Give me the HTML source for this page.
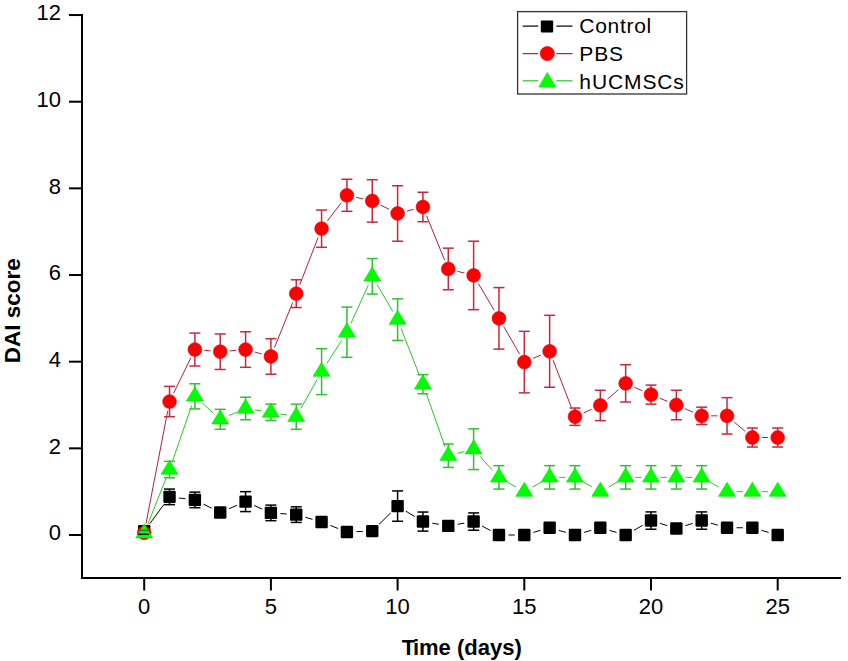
<!DOCTYPE html>
<html><head><meta charset="utf-8"><title>DAI score chart</title>
<style>html,body{margin:0;padding:0;background:#fff;}body{width:848px;height:661px;overflow:hidden;font-family:"Liberation Sans",sans-serif;}svg{display:block;}</style>
</head><body>
<svg width="848" height="661" viewBox="0 0 848 661"><g fill="#000">
<rect x="81" y="14" width="2" height="565"/>
<rect x="81" y="577" width="760" height="2"/>
<rect x="69" y="534.00" width="13" height="2"/>
<rect x="69" y="447.34" width="13" height="2"/>
<rect x="69" y="360.68" width="13" height="2"/>
<rect x="69" y="274.02" width="13" height="2"/>
<rect x="69" y="187.36" width="13" height="2"/>
<rect x="69" y="100.70" width="13" height="2"/>
<rect x="69" y="14.04" width="13" height="2"/>
<rect x="143.20" y="578" width="2" height="12.5"/>
<rect x="269.90" y="578" width="2" height="12.5"/>
<rect x="396.60" y="578" width="2" height="12.5"/>
<rect x="523.30" y="578" width="2" height="12.5"/>
<rect x="650.00" y="578" width="2" height="12.5"/>
<rect x="776.70" y="578" width="2" height="12.5"/>
</g>
<g font-family="Liberation Sans, sans-serif" font-size="22" fill="#000">
<text x="61.0" y="540.30" text-anchor="end">0</text>
<text x="61.0" y="453.64" text-anchor="end">2</text>
<text x="61.0" y="366.98" text-anchor="end">4</text>
<text x="61.0" y="280.32" text-anchor="end">6</text>
<text x="61.0" y="193.66" text-anchor="end">8</text>
<text x="61.0" y="107.00" text-anchor="end">10</text>
<text x="61.0" y="20.34" text-anchor="end">12</text>
<text x="144.20" y="614.2" text-anchor="middle">0</text>
<text x="270.90" y="614.2" text-anchor="middle">5</text>
<text x="397.60" y="614.2" text-anchor="middle">10</text>
<text x="524.30" y="614.2" text-anchor="middle">15</text>
<text x="651.00" y="614.2" text-anchor="middle">20</text>
<text x="777.70" y="614.2" text-anchor="middle">25</text>
</g>
<text x="461.8" y="654.5" text-anchor="middle" font-family="Liberation Sans, sans-serif" font-weight="bold" font-size="22">T<tspan dx="-2">ime (days)</tspan></text>
<text transform="translate(19.5,310.7) rotate(-90)" x="0" y="0" text-anchor="middle" font-family="Liberation Sans, sans-serif" font-weight="bold" font-size="22.5">DAI score</text>
<g stroke="#000" stroke-width="1" fill="none"><line x1="149.83" y1="523.66" x2="163.91" y2="504.52"/><line x1="178.97" y1="498.00" x2="185.45" y2="498.77"/><line x1="203.39" y1="504.12" x2="211.71" y2="508.25"/><line x1="228.96" y1="508.73" x2="236.82" y2="505.37"/><line x1="254.24" y1="505.50" x2="262.22" y2="509.04"/><line x1="280.38" y1="513.55" x2="286.76" y2="513.99"/><line x1="305.36" y1="517.29" x2="312.46" y2="519.35"/><line x1="330.42" y1="525.48" x2="338.08" y2="528.49"/><line x1="356.41" y1="531.64" x2="362.77" y2="531.42"/><line x1="379.02" y1="524.43" x2="390.84" y2="512.77"/><line x1="405.71" y1="511.05" x2="414.83" y2="516.62"/><line x1="432.30" y1="523.17" x2="438.92" y2="524.30"/><line x1="457.64" y1="524.30" x2="464.26" y2="523.17"/><line x1="482.01" y1="526.02" x2="490.57" y2="530.55"/><line x1="508.46" y1="535.00" x2="514.80" y2="535.00"/><line x1="533.43" y1="532.39" x2="540.51" y2="530.37"/><line x1="558.77" y1="530.37" x2="565.85" y2="532.39"/><line x1="584.11" y1="532.39" x2="591.19" y2="530.37"/><line x1="609.45" y1="530.37" x2="616.53" y2="532.39"/><line x1="633.92" y1="530.30" x2="642.74" y2="525.27"/><line x1="660.07" y1="523.41" x2="667.27" y2="525.66"/><line x1="685.41" y1="525.66" x2="692.61" y2="523.41"/><line x1="710.82" y1="523.17" x2="717.88" y2="525.17"/><line x1="736.52" y1="527.76" x2="742.86" y2="527.76"/><line x1="761.49" y1="530.37" x2="768.57" y2="532.39"/></g>
<g stroke="#b02040" stroke-width="1" fill="none"><line x1="146.00" y1="523.51" x2="167.74" y2="410.87"/><line x1="173.70" y1="393.00" x2="190.72" y2="358.09"/><line x1="204.35" y1="350.36" x2="210.75" y2="350.90"/><line x1="229.69" y1="350.90" x2="236.09" y2="350.36"/><line x1="254.72" y1="352.05" x2="261.74" y2="353.97"/><line x1="274.45" y1="347.67" x2="292.69" y2="302.46"/><line x1="299.69" y1="284.80" x2="318.13" y2="237.51"/><line x1="327.33" y1="221.09" x2="341.17" y2="202.86"/><line x1="356.19" y1="197.35" x2="362.99" y2="198.86"/><line x1="380.77" y1="205.15" x2="389.09" y2="209.27"/><line x1="406.80" y1="211.13" x2="413.74" y2="209.35"/><line x1="426.54" y1="215.78" x2="444.68" y2="260.16"/><line x1="457.48" y1="271.31" x2="464.42" y2="273.09"/><line x1="478.45" y1="283.63" x2="494.13" y2="310.17"/><line x1="503.72" y1="326.57" x2="519.54" y2="353.89"/><line x1="533.04" y1="358.38" x2="540.90" y2="355.02"/><line x1="553.07" y1="360.14" x2="571.55" y2="407.85"/><line x1="583.66" y1="412.85" x2="591.64" y2="409.30"/><line x1="607.48" y1="399.20" x2="618.50" y2="389.59"/><line x1="634.34" y1="387.20" x2="642.32" y2="390.75"/><line x1="659.79" y1="398.22" x2="667.55" y2="401.40"/><line x1="685.08" y1="408.74" x2="692.94" y2="412.11"/><line x1="711.18" y1="415.84" x2="717.52" y2="415.84"/><line x1="734.24" y1="422.02" x2="745.14" y2="431.33"/><line x1="761.86" y1="437.51" x2="768.20" y2="437.51"/></g>
<g stroke="#28c828" stroke-width="1" fill="none"><line x1="147.71" y1="524.44" x2="166.03" y2="478.40"/><line x1="172.65" y1="460.59" x2="191.77" y2="405.32"/><line x1="201.92" y1="402.72" x2="213.18" y2="412.93"/><line x1="228.96" y1="415.57" x2="236.82" y2="412.21"/><line x1="254.95" y1="409.92" x2="261.51" y2="410.93"/><line x1="280.26" y1="413.98" x2="286.88" y2="415.11"/><line x1="300.90" y1="408.43" x2="316.92" y2="379.93"/><line x1="326.72" y1="363.65" x2="341.78" y2="340.21"/><line x1="350.84" y1="323.56" x2="368.34" y2="284.97"/><line x1="377.06" y1="284.52" x2="392.80" y2="311.45"/><line x1="401.07" y1="328.49" x2="419.47" y2="375.37"/><line x1="426.11" y1="393.17" x2="445.11" y2="446.75"/><line x1="457.48" y1="453.35" x2="464.42" y2="451.57"/><line x1="479.97" y1="456.27" x2="492.61" y2="470.31"/><line x1="507.23" y1="482.04" x2="516.03" y2="487.00"/><line x1="532.57" y1="487.00" x2="541.37" y2="482.04"/><line x1="559.14" y1="477.37" x2="565.48" y2="477.37"/><line x1="583.25" y1="482.04" x2="592.05" y2="487.00"/><line x1="608.59" y1="487.00" x2="617.39" y2="482.04"/><line x1="635.16" y1="477.37" x2="641.50" y2="477.37"/><line x1="660.50" y1="477.37" x2="666.84" y2="477.37"/><line x1="685.84" y1="477.37" x2="692.18" y2="477.37"/><line x1="709.95" y1="482.04" x2="718.75" y2="487.00"/><line x1="736.52" y1="491.67" x2="742.86" y2="491.67"/><line x1="761.86" y1="491.67" x2="768.20" y2="491.67"/></g>
<g stroke="#000" stroke-width="1.5" fill="none"><line x1="169.54" y1="489.07" x2="169.54" y2="504.67"/><line x1="164.04" y1="489.07" x2="175.04" y2="489.07"/><line x1="164.04" y1="504.67" x2="175.04" y2="504.67"/><line x1="194.88" y1="492.10" x2="194.88" y2="507.70"/><line x1="189.38" y1="492.10" x2="200.38" y2="492.10"/><line x1="189.38" y1="507.70" x2="200.38" y2="507.70"/><line x1="220.22" y1="509.00" x2="220.22" y2="515.93"/><line x1="214.72" y1="509.00" x2="225.72" y2="509.00"/><line x1="214.72" y1="515.93" x2="225.72" y2="515.93"/><line x1="245.56" y1="491.67" x2="245.56" y2="511.60"/><line x1="240.06" y1="491.67" x2="251.06" y2="491.67"/><line x1="240.06" y1="511.60" x2="251.06" y2="511.60"/><line x1="270.90" y1="505.10" x2="270.90" y2="520.70"/><line x1="265.40" y1="505.10" x2="276.40" y2="505.10"/><line x1="265.40" y1="520.70" x2="276.40" y2="520.70"/><line x1="296.24" y1="506.84" x2="296.24" y2="522.43"/><line x1="290.74" y1="506.84" x2="301.74" y2="506.84"/><line x1="290.74" y1="522.43" x2="301.74" y2="522.43"/><line x1="321.58" y1="519.40" x2="321.58" y2="524.60"/><line x1="316.08" y1="519.40" x2="327.08" y2="519.40"/><line x1="316.08" y1="524.60" x2="327.08" y2="524.60"/><line x1="346.92" y1="529.80" x2="346.92" y2="534.13"/><line x1="341.42" y1="529.80" x2="352.42" y2="529.80"/><line x1="341.42" y1="534.13" x2="352.42" y2="534.13"/><line x1="372.26" y1="528.93" x2="372.26" y2="533.27"/><line x1="366.76" y1="528.93" x2="377.76" y2="528.93"/><line x1="366.76" y1="533.27" x2="377.76" y2="533.27"/><line x1="397.60" y1="490.93" x2="397.60" y2="521.26"/><line x1="392.10" y1="490.93" x2="403.10" y2="490.93"/><line x1="392.10" y1="521.26" x2="403.10" y2="521.26"/><line x1="422.94" y1="512.04" x2="422.94" y2="531.10"/><line x1="417.44" y1="512.04" x2="428.44" y2="512.04"/><line x1="417.44" y1="531.10" x2="428.44" y2="531.10"/><line x1="448.28" y1="523.73" x2="448.28" y2="528.07"/><line x1="442.78" y1="523.73" x2="453.78" y2="523.73"/><line x1="442.78" y1="528.07" x2="453.78" y2="528.07"/><line x1="473.62" y1="512.90" x2="473.62" y2="530.23"/><line x1="468.12" y1="512.90" x2="479.12" y2="512.90"/><line x1="468.12" y1="530.23" x2="479.12" y2="530.23"/><line x1="549.64" y1="525.60" x2="549.64" y2="529.93"/><line x1="544.14" y1="525.60" x2="555.14" y2="525.60"/><line x1="544.14" y1="529.93" x2="555.14" y2="529.93"/><line x1="600.32" y1="525.60" x2="600.32" y2="529.93"/><line x1="594.82" y1="525.60" x2="605.82" y2="525.60"/><line x1="594.82" y1="529.93" x2="605.82" y2="529.93"/><line x1="651.00" y1="511.91" x2="651.00" y2="529.24"/><line x1="645.50" y1="511.91" x2="656.50" y2="511.91"/><line x1="645.50" y1="529.24" x2="656.50" y2="529.24"/><line x1="676.34" y1="526.33" x2="676.34" y2="530.67"/><line x1="670.84" y1="526.33" x2="681.84" y2="526.33"/><line x1="670.84" y1="530.67" x2="681.84" y2="530.67"/><line x1="701.68" y1="511.91" x2="701.68" y2="529.24"/><line x1="696.18" y1="511.91" x2="707.18" y2="511.91"/><line x1="696.18" y1="529.24" x2="707.18" y2="529.24"/><line x1="727.02" y1="525.60" x2="727.02" y2="529.93"/><line x1="721.52" y1="525.60" x2="732.52" y2="525.60"/><line x1="721.52" y1="529.93" x2="732.52" y2="529.93"/><line x1="752.36" y1="525.60" x2="752.36" y2="529.93"/><line x1="746.86" y1="525.60" x2="757.86" y2="525.60"/><line x1="746.86" y1="529.93" x2="757.86" y2="529.93"/></g>
<g fill="#000"><rect x="138.00" y="525.12" width="12.4" height="12.4" rx="1.2"/><rect x="163.34" y="490.67" width="12.4" height="12.4" rx="1.2"/><rect x="188.68" y="493.70" width="12.4" height="12.4" rx="1.2"/><rect x="214.02" y="506.27" width="12.4" height="12.4" rx="1.2"/><rect x="239.36" y="495.44" width="12.4" height="12.4" rx="1.2"/><rect x="264.70" y="506.70" width="12.4" height="12.4" rx="1.2"/><rect x="290.04" y="508.43" width="12.4" height="12.4" rx="1.2"/><rect x="315.38" y="515.80" width="12.4" height="12.4" rx="1.2"/><rect x="340.72" y="525.77" width="12.4" height="12.4" rx="1.2"/><rect x="366.06" y="524.90" width="12.4" height="12.4" rx="1.2"/><rect x="391.40" y="499.90" width="12.4" height="12.4" rx="1.2"/><rect x="416.74" y="515.37" width="12.4" height="12.4" rx="1.2"/><rect x="442.08" y="519.70" width="12.4" height="12.4" rx="1.2"/><rect x="467.42" y="515.37" width="12.4" height="12.4" rx="1.2"/><rect x="492.76" y="528.80" width="12.4" height="12.4" rx="1.2"/><rect x="518.10" y="528.80" width="12.4" height="12.4" rx="1.2"/><rect x="543.44" y="521.56" width="12.4" height="12.4" rx="1.2"/><rect x="568.78" y="528.80" width="12.4" height="12.4" rx="1.2"/><rect x="594.12" y="521.56" width="12.4" height="12.4" rx="1.2"/><rect x="619.46" y="528.80" width="12.4" height="12.4" rx="1.2"/><rect x="644.80" y="514.37" width="12.4" height="12.4" rx="1.2"/><rect x="670.14" y="522.30" width="12.4" height="12.4" rx="1.2"/><rect x="695.48" y="514.37" width="12.4" height="12.4" rx="1.2"/><rect x="720.82" y="521.56" width="12.4" height="12.4" rx="1.2"/><rect x="746.16" y="521.56" width="12.4" height="12.4" rx="1.2"/><rect x="771.50" y="528.80" width="12.4" height="12.4" rx="1.2"/></g>
<g stroke="#c8283c" stroke-width="1.5" fill="none"><line x1="169.54" y1="386.38" x2="169.54" y2="416.71"/><line x1="164.04" y1="386.38" x2="175.04" y2="386.38"/><line x1="164.04" y1="416.71" x2="175.04" y2="416.71"/><line x1="194.88" y1="333.08" x2="194.88" y2="366.01"/><line x1="189.38" y1="333.08" x2="200.38" y2="333.08"/><line x1="189.38" y1="366.01" x2="200.38" y2="366.01"/><line x1="220.22" y1="333.95" x2="220.22" y2="369.48"/><line x1="214.72" y1="333.95" x2="225.72" y2="333.95"/><line x1="214.72" y1="369.48" x2="225.72" y2="369.48"/><line x1="245.56" y1="331.78" x2="245.56" y2="367.31"/><line x1="240.06" y1="331.78" x2="251.06" y2="331.78"/><line x1="240.06" y1="367.31" x2="251.06" y2="367.31"/><line x1="270.90" y1="338.72" x2="270.90" y2="374.25"/><line x1="265.40" y1="338.72" x2="276.40" y2="338.72"/><line x1="265.40" y1="374.25" x2="276.40" y2="374.25"/><line x1="296.24" y1="279.79" x2="296.24" y2="307.52"/><line x1="290.74" y1="279.79" x2="301.74" y2="279.79"/><line x1="290.74" y1="307.52" x2="301.74" y2="307.52"/><line x1="321.58" y1="210.03" x2="321.58" y2="247.29"/><line x1="316.08" y1="210.03" x2="327.08" y2="210.03"/><line x1="316.08" y1="247.29" x2="327.08" y2="247.29"/><line x1="346.92" y1="179.26" x2="346.92" y2="211.32"/><line x1="341.42" y1="179.26" x2="352.42" y2="179.26"/><line x1="341.42" y1="211.32" x2="352.42" y2="211.32"/><line x1="372.26" y1="179.69" x2="372.26" y2="222.16"/><line x1="366.76" y1="179.69" x2="377.76" y2="179.69"/><line x1="366.76" y1="222.16" x2="377.76" y2="222.16"/><line x1="397.60" y1="185.76" x2="397.60" y2="241.22"/><line x1="392.10" y1="185.76" x2="403.10" y2="185.76"/><line x1="392.10" y1="241.22" x2="403.10" y2="241.22"/><line x1="422.94" y1="192.26" x2="422.94" y2="221.72"/><line x1="417.44" y1="192.26" x2="428.44" y2="192.26"/><line x1="417.44" y1="221.72" x2="428.44" y2="221.72"/><line x1="448.28" y1="248.16" x2="448.28" y2="289.75"/><line x1="442.78" y1="248.16" x2="453.78" y2="248.16"/><line x1="442.78" y1="289.75" x2="453.78" y2="289.75"/><line x1="473.62" y1="241.22" x2="473.62" y2="309.68"/><line x1="468.12" y1="241.22" x2="479.12" y2="241.22"/><line x1="468.12" y1="309.68" x2="479.12" y2="309.68"/><line x1="498.96" y1="287.59" x2="498.96" y2="349.11"/><line x1="493.46" y1="287.59" x2="504.46" y2="287.59"/><line x1="493.46" y1="349.11" x2="504.46" y2="349.11"/><line x1="524.30" y1="331.35" x2="524.30" y2="392.88"/><line x1="518.80" y1="331.35" x2="529.80" y2="331.35"/><line x1="518.80" y1="392.88" x2="529.80" y2="392.88"/><line x1="549.64" y1="315.32" x2="549.64" y2="387.24"/><line x1="544.14" y1="315.32" x2="555.14" y2="315.32"/><line x1="544.14" y1="387.24" x2="555.14" y2="387.24"/><line x1="574.98" y1="408.04" x2="574.98" y2="425.38"/><line x1="569.48" y1="408.04" x2="580.48" y2="408.04"/><line x1="569.48" y1="425.38" x2="580.48" y2="425.38"/><line x1="600.32" y1="390.28" x2="600.32" y2="420.61"/><line x1="594.82" y1="390.28" x2="605.82" y2="390.28"/><line x1="594.82" y1="420.61" x2="605.82" y2="420.61"/><line x1="625.66" y1="364.71" x2="625.66" y2="401.98"/><line x1="620.16" y1="364.71" x2="631.16" y2="364.71"/><line x1="620.16" y1="401.98" x2="631.16" y2="401.98"/><line x1="651.00" y1="385.08" x2="651.00" y2="404.14"/><line x1="645.50" y1="385.08" x2="656.50" y2="385.08"/><line x1="645.50" y1="404.14" x2="656.50" y2="404.14"/><line x1="676.34" y1="390.28" x2="676.34" y2="419.74"/><line x1="670.84" y1="390.28" x2="681.84" y2="390.28"/><line x1="670.84" y1="419.74" x2="681.84" y2="419.74"/><line x1="701.68" y1="407.18" x2="701.68" y2="424.51"/><line x1="696.18" y1="407.18" x2="707.18" y2="407.18"/><line x1="696.18" y1="424.51" x2="707.18" y2="424.51"/><line x1="727.02" y1="397.64" x2="727.02" y2="434.04"/><line x1="721.52" y1="397.64" x2="732.52" y2="397.64"/><line x1="721.52" y1="434.04" x2="732.52" y2="434.04"/><line x1="752.36" y1="427.97" x2="752.36" y2="447.04"/><line x1="746.86" y1="427.97" x2="757.86" y2="427.97"/><line x1="746.86" y1="447.04" x2="757.86" y2="447.04"/><line x1="777.70" y1="427.97" x2="777.70" y2="447.04"/><line x1="772.20" y1="427.97" x2="783.20" y2="427.97"/><line x1="772.20" y1="447.04" x2="783.20" y2="447.04"/></g>
<g fill="#ff0000" stroke="#e00010" stroke-width="0.6"><circle cx="144.20" cy="532.83" r="6.9"/><circle cx="169.54" cy="401.54" r="6.9"/><circle cx="194.88" cy="349.55" r="6.9"/><circle cx="220.22" cy="351.71" r="6.9"/><circle cx="245.56" cy="349.55" r="6.9"/><circle cx="270.90" cy="356.48" r="6.9"/><circle cx="296.24" cy="293.65" r="6.9"/><circle cx="321.58" cy="228.66" r="6.9"/><circle cx="346.92" cy="195.29" r="6.9"/><circle cx="372.26" cy="200.93" r="6.9"/><circle cx="397.60" cy="213.49" r="6.9"/><circle cx="422.94" cy="206.99" r="6.9"/><circle cx="448.28" cy="268.95" r="6.9"/><circle cx="473.62" cy="275.45" r="6.9"/><circle cx="498.96" cy="318.35" r="6.9"/><circle cx="524.30" cy="362.11" r="6.9"/><circle cx="549.64" cy="351.28" r="6.9"/><circle cx="574.98" cy="416.71" r="6.9"/><circle cx="600.32" cy="405.44" r="6.9"/><circle cx="625.66" cy="383.35" r="6.9"/><circle cx="651.00" cy="394.61" r="6.9"/><circle cx="676.34" cy="405.01" r="6.9"/><circle cx="701.68" cy="415.84" r="6.9"/><circle cx="727.02" cy="415.84" r="6.9"/><circle cx="752.36" cy="437.51" r="6.9"/><circle cx="777.70" cy="437.51" r="6.9"/></g>
<g stroke="#30c030" stroke-width="1.5" fill="none"><line x1="169.54" y1="461.34" x2="169.54" y2="477.80"/><line x1="164.04" y1="461.34" x2="175.04" y2="461.34"/><line x1="164.04" y1="477.80" x2="175.04" y2="477.80"/><line x1="194.88" y1="383.78" x2="194.88" y2="408.91"/><line x1="189.38" y1="383.78" x2="200.38" y2="383.78"/><line x1="189.38" y1="408.91" x2="200.38" y2="408.91"/><line x1="220.22" y1="409.34" x2="220.22" y2="429.27"/><line x1="214.72" y1="409.34" x2="225.72" y2="409.34"/><line x1="214.72" y1="429.27" x2="225.72" y2="429.27"/><line x1="245.56" y1="397.21" x2="245.56" y2="419.74"/><line x1="240.06" y1="397.21" x2="251.06" y2="397.21"/><line x1="240.06" y1="419.74" x2="251.06" y2="419.74"/><line x1="270.90" y1="404.14" x2="270.90" y2="420.61"/><line x1="265.40" y1="404.14" x2="276.40" y2="404.14"/><line x1="265.40" y1="420.61" x2="276.40" y2="420.61"/><line x1="296.24" y1="404.14" x2="296.24" y2="429.27"/><line x1="290.74" y1="404.14" x2="301.74" y2="404.14"/><line x1="290.74" y1="429.27" x2="301.74" y2="429.27"/><line x1="321.58" y1="348.68" x2="321.58" y2="394.61"/><line x1="316.08" y1="348.68" x2="327.08" y2="348.68"/><line x1="316.08" y1="394.61" x2="327.08" y2="394.61"/><line x1="346.92" y1="307.08" x2="346.92" y2="357.35"/><line x1="341.42" y1="307.08" x2="352.42" y2="307.08"/><line x1="341.42" y1="357.35" x2="352.42" y2="357.35"/><line x1="372.26" y1="258.55" x2="372.26" y2="294.09"/><line x1="366.76" y1="258.55" x2="377.76" y2="258.55"/><line x1="366.76" y1="294.09" x2="377.76" y2="294.09"/><line x1="397.60" y1="298.85" x2="397.60" y2="340.45"/><line x1="392.10" y1="298.85" x2="403.10" y2="298.85"/><line x1="392.10" y1="340.45" x2="403.10" y2="340.45"/><line x1="422.94" y1="374.68" x2="422.94" y2="393.74"/><line x1="417.44" y1="374.68" x2="428.44" y2="374.68"/><line x1="417.44" y1="393.74" x2="428.44" y2="393.74"/><line x1="448.28" y1="444.01" x2="448.28" y2="467.41"/><line x1="442.78" y1="444.01" x2="453.78" y2="444.01"/><line x1="442.78" y1="467.41" x2="453.78" y2="467.41"/><line x1="473.62" y1="428.84" x2="473.62" y2="469.57"/><line x1="468.12" y1="428.84" x2="479.12" y2="428.84"/><line x1="468.12" y1="469.57" x2="479.12" y2="469.57"/><line x1="498.96" y1="465.67" x2="498.96" y2="489.07"/><line x1="493.46" y1="465.67" x2="504.46" y2="465.67"/><line x1="493.46" y1="489.07" x2="504.46" y2="489.07"/><line x1="549.64" y1="465.67" x2="549.64" y2="489.07"/><line x1="544.14" y1="465.67" x2="555.14" y2="465.67"/><line x1="544.14" y1="489.07" x2="555.14" y2="489.07"/><line x1="574.98" y1="465.67" x2="574.98" y2="489.07"/><line x1="569.48" y1="465.67" x2="580.48" y2="465.67"/><line x1="569.48" y1="489.07" x2="580.48" y2="489.07"/><line x1="625.66" y1="465.67" x2="625.66" y2="489.07"/><line x1="620.16" y1="465.67" x2="631.16" y2="465.67"/><line x1="620.16" y1="489.07" x2="631.16" y2="489.07"/><line x1="651.00" y1="465.67" x2="651.00" y2="489.07"/><line x1="645.50" y1="465.67" x2="656.50" y2="465.67"/><line x1="645.50" y1="489.07" x2="656.50" y2="489.07"/><line x1="676.34" y1="465.67" x2="676.34" y2="489.07"/><line x1="670.84" y1="465.67" x2="681.84" y2="465.67"/><line x1="670.84" y1="489.07" x2="681.84" y2="489.07"/><line x1="701.68" y1="465.67" x2="701.68" y2="489.07"/><line x1="696.18" y1="465.67" x2="707.18" y2="465.67"/><line x1="696.18" y1="489.07" x2="707.18" y2="489.07"/></g>
<g fill="#00ff00" stroke="#00e000" stroke-width="0.6"><polygon points="144.20,523.87 152.70,537.97 135.70,537.97"/><polygon points="169.54,460.17 178.04,474.27 161.04,474.27"/><polygon points="194.88,386.94 203.38,401.04 186.38,401.04"/><polygon points="220.22,409.91 228.72,424.01 211.72,424.01"/><polygon points="245.56,399.08 254.06,413.18 237.06,413.18"/><polygon points="270.90,402.98 279.40,417.08 262.40,417.08"/><polygon points="296.24,407.31 304.74,421.41 287.74,421.41"/><polygon points="321.58,362.25 330.08,376.35 313.08,376.35"/><polygon points="346.92,322.82 355.42,336.92 338.42,336.92"/><polygon points="372.26,266.92 380.76,281.02 363.76,281.02"/><polygon points="397.60,310.25 406.10,324.35 389.10,324.35"/><polygon points="422.94,374.81 431.44,388.91 414.44,388.91"/><polygon points="448.28,446.31 456.78,460.41 439.78,460.41"/><polygon points="473.62,439.81 482.12,453.91 465.12,453.91"/><polygon points="498.96,467.97 507.46,482.07 490.46,482.07"/><polygon points="524.30,482.27 532.80,496.37 515.80,496.37"/><polygon points="549.64,467.97 558.14,482.07 541.14,482.07"/><polygon points="574.98,467.97 583.48,482.07 566.48,482.07"/><polygon points="600.32,482.27 608.82,496.37 591.82,496.37"/><polygon points="625.66,467.97 634.16,482.07 617.16,482.07"/><polygon points="651.00,467.97 659.50,482.07 642.50,482.07"/><polygon points="676.34,467.97 684.84,482.07 667.84,482.07"/><polygon points="701.68,467.97 710.18,482.07 693.18,482.07"/><polygon points="727.02,482.27 735.52,496.37 718.52,496.37"/><polygon points="752.36,482.27 760.86,496.37 743.86,496.37"/><polygon points="777.70,482.27 786.20,496.37 769.20,496.37"/></g>
<line x1="140" y1="530.3" x2="148" y2="530.3" stroke="#108010" stroke-width="1.3"/>
<line x1="138.2" y1="534.3" x2="148.8" y2="534.3" stroke="#000" stroke-width="1.5"/>
<rect x="517.6" y="11.6" width="169" height="82.4" fill="#fff" stroke="#333" stroke-width="1.3"/><line x1="522.7" y1="26.1" x2="538.3" y2="26.1" stroke="#000" stroke-width="1.2"/><line x1="556.4" y1="26.1" x2="572.5" y2="26.1" stroke="#000" stroke-width="1.2"/><rect x="540.8" y="20.5" width="12.4" height="12" rx="1" fill="#000"/><text x="579.3" y="32.6" font-family="Liberation Sans, sans-serif" font-size="21" letter-spacing="0.7" fill="#000">Control</text><line x1="522.7" y1="53.6" x2="538.3" y2="53.6" stroke="#b02040" stroke-width="1.2"/><line x1="556.4" y1="53.6" x2="572.5" y2="53.6" stroke="#b02040" stroke-width="1.2"/><circle cx="547.3" cy="53.6" r="7.1" fill="#ff0000" stroke="#e00010" stroke-width="0.6"/><text x="579.3" y="60.7" font-family="Liberation Sans, sans-serif" font-size="21" letter-spacing="0.9" fill="#000">PBS</text><line x1="522.7" y1="80.8" x2="538.3" y2="80.8" stroke="#28c828" stroke-width="1.2"/><line x1="556.4" y1="80.8" x2="572.5" y2="80.8" stroke="#28c828" stroke-width="1.2"/><polygon points="547.3,72.4 555.9,87 538.8,87" fill="#00ff00" stroke="#00e000" stroke-width="0.6"/><text x="579.3" y="88.5" font-family="Liberation Sans, sans-serif" font-size="21" letter-spacing="0.9" fill="#000">hUCMSCs</text></svg>
</body></html>
